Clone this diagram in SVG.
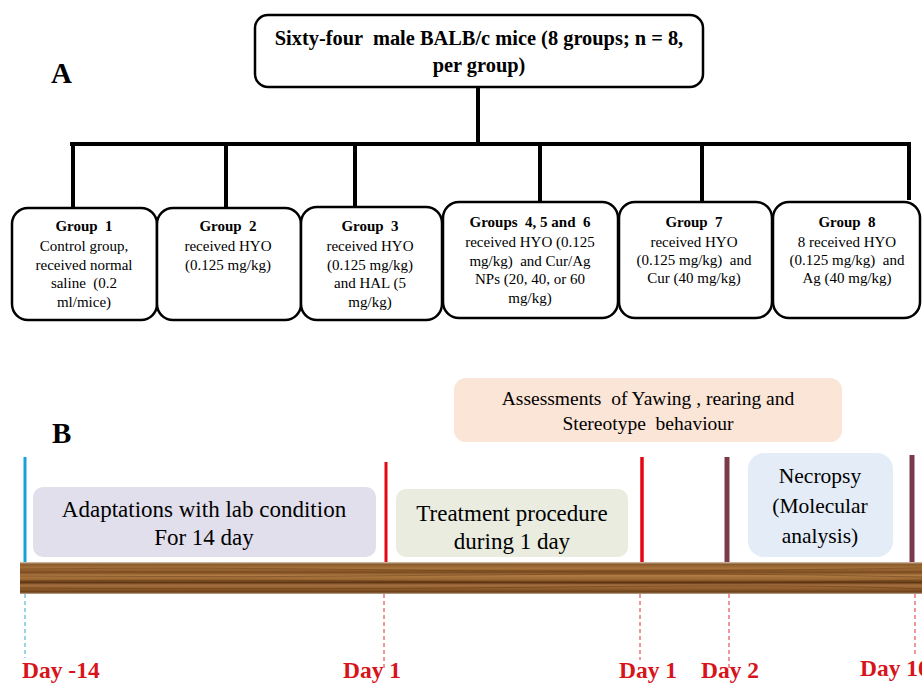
<svg xmlns="http://www.w3.org/2000/svg" width="922" height="684" viewBox="0 0 922 684">
<style>
  .bx{fill:#fff;stroke:#000;stroke-width:2.5}
  .ln{stroke:#000;stroke-width:4;fill:none}
  .t{font-family:'Liberation Serif','Times New Roman',serif;fill:#000;text-anchor:middle}
  .g{font-size:15px}
  .gb{font-size:15px;font-weight:bold}
  .big{font-size:23px}
  .nec{font-size:21.5px}
  .day{font-family:'Liberation Serif','Times New Roman',serif;font-weight:bold;font-size:23.5px;fill:#d7141c}
  .lbl{font-family:'Liberation Serif','Times New Roman',serif;font-weight:bold;font-size:29px;fill:#000}
</style>
<defs>
  <linearGradient id="wood" x1="0" y1="0" x2="0" y2="1">
    <stop offset="0" stop-color="#d8cbb8"/>
    <stop offset="0.07" stop-color="#8a5a2c"/>
    <stop offset="0.2" stop-color="#a8743c"/>
    <stop offset="0.32" stop-color="#7a4a20"/>
    <stop offset="0.42" stop-color="#b07c44"/>
    <stop offset="0.55" stop-color="#9a6632"/>
    <stop offset="0.64" stop-color="#5e3614"/>
    <stop offset="0.72" stop-color="#a57040"/>
    <stop offset="0.85" stop-color="#8d5a2a"/>
    <stop offset="0.94" stop-color="#6a3e1a"/>
    <stop offset="1" stop-color="#c8b09a"/>
  </linearGradient>
</defs>
<rect width="922" height="684" fill="#fff"/>

<text class="lbl" x="51" y="83">A</text>
<text class="lbl" x="52" y="443">B</text>

<g id="connectors">
  <line class="ln" x1="478" y1="87" x2="478" y2="144"/>
  <line class="ln" x1="70" y1="144" x2="910" y2="144"/>
  <line class="ln" x1="73" y1="144" x2="73" y2="207"/>
  <line class="ln" x1="226" y1="144" x2="226" y2="207"/>
  <line class="ln" x1="355" y1="144" x2="355" y2="206"/>
  <line class="ln" x1="540" y1="144" x2="540" y2="202"/>
  <line class="ln" x1="702" y1="144" x2="702" y2="202"/>
  <line class="ln" x1="909" y1="142" x2="909" y2="200"/>
</g>

<g id="top">
  <rect class="bx" x="255" y="15" width="448" height="72" rx="13"/>
  <text class="t" x="479" y="45" font-size="20.4" font-weight="bold" xml:space="preserve">Sixty-four  male BALB/c mice (8 groups; n = 8,</text>
  <text class="t" x="479" y="72" font-size="20.4" font-weight="bold">per group)</text>
</g>

<g id="group1">
  <rect class="bx" x="12" y="208" width="145" height="112" rx="16"/>
  <text class="t gb" x="84" y="231" xml:space="preserve">Group  1</text>
  <text class="t g" x="84" y="251">Control group,</text>
  <text class="t g" x="84" y="270">received normal</text>
  <text class="t g" x="84" y="288" xml:space="preserve">saline  (0.2</text>
  <text class="t g" x="84" y="307">ml/mice)</text>
</g>
<g id="group2">
  <rect class="bx" x="157" y="208" width="144" height="112" rx="16"/>
  <text class="t gb" x="228" y="231" xml:space="preserve">Group  2</text>
  <text class="t g" x="228" y="251">received HYO</text>
  <text class="t g" x="228" y="270">(0.125 mg/kg)</text>
</g>
<g id="group3">
  <rect class="bx" x="301" y="207" width="141" height="113" rx="16"/>
  <text class="t gb" x="370" y="231" xml:space="preserve">Group  3</text>
  <text class="t g" x="370" y="251">received HYO</text>
  <text class="t g" x="370" y="270">(0.125 mg/kg)</text>
  <text class="t g" x="370" y="288">and HAL (5</text>
  <text class="t g" x="370" y="307">mg/kg)</text>
</g>
<g id="group456">
  <rect class="bx" x="443" y="202" width="175" height="116" rx="16"/>
  <text class="t gb" x="530" y="227" xml:space="preserve">Groups  4, 5 and  6</text>
  <text class="t g" x="530" y="247">received HYO (0.125</text>
  <text class="t g" x="530" y="266" xml:space="preserve">mg/kg)  and Cur/Ag</text>
  <text class="t g" x="530" y="284">NPs (20, 40, or 60</text>
  <text class="t g" x="530" y="303">mg/kg)</text>
</g>
<g id="group7">
  <rect class="bx" x="619" y="202" width="153" height="116" rx="16"/>
  <text class="t gb" x="694" y="227" xml:space="preserve">Group  7</text>
  <text class="t g" x="694" y="247">received HYO</text>
  <text class="t g" x="694" y="265" xml:space="preserve">(0.125 mg/kg)  and</text>
  <text class="t g" x="694" y="283">Cur (40 mg/kg)</text>
</g>
<g id="group8">
  <rect class="bx" x="773" y="202" width="147" height="116" rx="16"/>
  <text class="t gb" x="847" y="227" xml:space="preserve">Group  8</text>
  <text class="t g" x="847" y="247">8 received HYO</text>
  <text class="t g" x="847" y="265" xml:space="preserve">(0.125 mg/kg)  and</text>
  <text class="t g" x="847" y="283">Ag (40 mg/kg)</text>
</g>

<g id="assess">
  <rect x="454" y="378" width="388" height="64" rx="12" fill="#fbe5d7"/>
  <text class="t" x="648" y="405" font-size="19.5" xml:space="preserve">Assessments  of Yawing , rearing and</text>
  <text class="t" x="648" y="430" font-size="19.5" xml:space="preserve">Stereotype  behaviour</text>
</g>

<g id="timeline-ticks">
  <line x1="25" y1="457" x2="25" y2="563" stroke="#1aa0dc" stroke-width="3"/>
  <line x1="386" y1="462" x2="386" y2="563" stroke="#e30613" stroke-width="3"/>
  <line x1="642" y1="457" x2="642" y2="563" stroke="#e30613" stroke-width="3.5"/>
  <line x1="727" y1="457" x2="727" y2="563" stroke="#7b3a4c" stroke-width="5"/>
  <line x1="912" y1="455" x2="912" y2="563" stroke="#7b3a4c" stroke-width="5"/>
</g>

<g id="adapt">
  <rect x="33" y="487" width="343" height="70" rx="10" fill="#e1dfec"/>
  <text class="t big" x="204" y="517">Adaptations with lab condition</text>
  <text class="t big" x="204" y="545">For 14 day</text>
</g>
<g id="treat">
  <rect x="396" y="489" width="232" height="68" rx="10" fill="#e9ecdf"/>
  <text class="t big" x="512" y="521">Treatment procedure</text>
  <text class="t big" x="512" y="549">during 1 day</text>
</g>
<g id="necropsy">
  <rect x="748" y="453" width="145" height="104" rx="16" fill="#e3ecf7"/>
  <text class="t nec" x="820" y="483">Necropsy</text>
  <text class="t nec" x="820" y="513">(Molecular</text>
  <text class="t nec" x="820" y="543">analysis)</text>
</g>

<g id="bar">
  <rect x="20" y="562" width="910" height="32" fill="url(#wood)"/>
  <g stroke="#5a3312" stroke-width="0.8" opacity="0.55" fill="none">
    <path d="M20 569 Q200 567 400 570 T922 568"/>
    <path d="M20 576 Q250 578 480 575 T922 577"/>
    <path d="M20 581 Q220 579 460 582 T922 580"/>
    <path d="M20 588 Q300 590 560 587 T922 589"/>
  </g>
</g>

<g id="dashes" stroke-width="1" stroke-dasharray="4 3" fill="none">
  <line x1="25" y1="594" x2="25" y2="658" stroke="#3aa6d0"/>
  <line x1="384" y1="594" x2="384" y2="668" stroke="#e03030"/>
  <line x1="640" y1="594" x2="640" y2="660" stroke="#e03030"/>
  <line x1="729" y1="594" x2="729" y2="668" stroke="#e03030"/>
  <line x1="915" y1="594" x2="915" y2="656" stroke="#e03030"/>
</g>

<g id="days">
  <text class="day" x="22" y="678">Day -14</text>
  <text class="day" x="343" y="678">Day 1</text>
  <text class="day" x="619" y="678">Day 1</text>
  <text class="day" x="701" y="678">Day 2</text>
  <text class="day" x="860" y="676">Day 10</text>
</g>
</svg>
